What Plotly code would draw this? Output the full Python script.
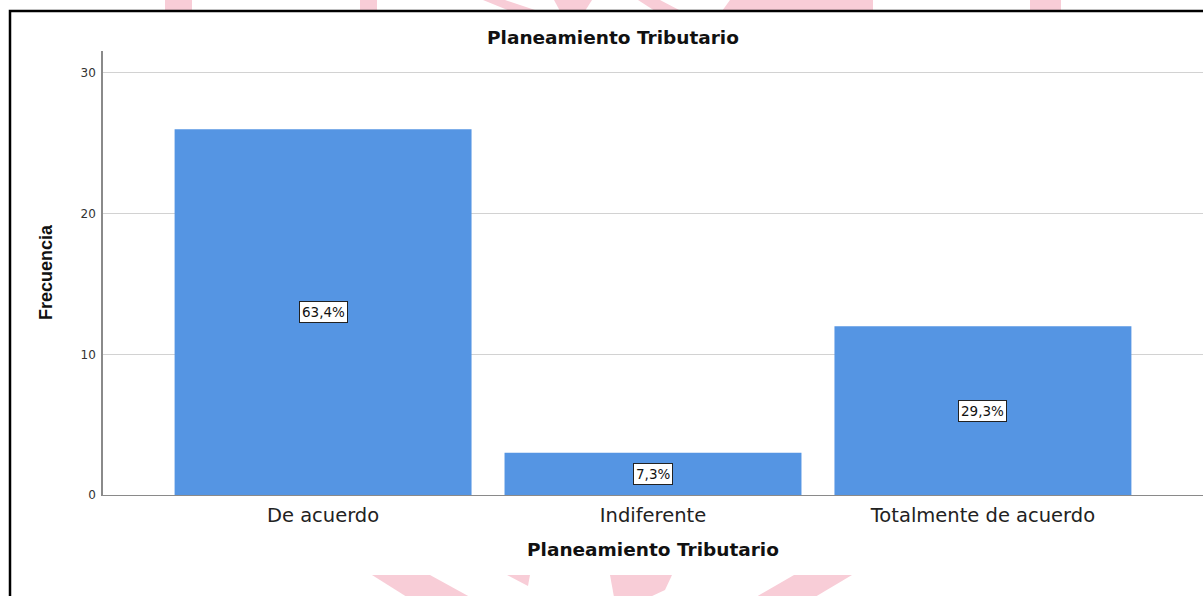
import plotly.graph_objects as go

# ---- data ----
categories = ["De acuerdo", "Indiferente", "Totalmente de acuerdo"]
frecuencia = [26, 3, 12]
porcentaje = ["63,4%", "7,3%", "29,3%"]
y_ticks = [0, 10, 20, 30]

W, H = 1203, 596
L, R, T, B = 103, 1203, 51, 495  # plot area in pixels

def px(x):
    return (x - L) / (R - L)

def py(y):
    return (B - y) / (B - T)

BAR = "rgb(85,149,227)"
PINK = "rgb(248,205,215)"
WIDE = "DejaVu Sans, Verdana, sans-serif"

fig = go.Figure()
fig.add_trace(go.Bar(
    x=categories, y=frecuencia, width=0.9,
    marker=dict(color=BAR, line=dict(width=0)),
    hoverinfo="x+y", showlegend=False,
))

annotations = []
for c, v, p in zip(categories, frecuencia, porcentaje):
    annotations.append(dict(
        x=c, y=v / 2, xref="x", yref="y", text=p, showarrow=False,
        font=dict(family=WIDE, size=13.5, color="#111"),
        bgcolor="white", bordercolor="#222", borderwidth=1, borderpad=2,
    ))

# y-axis title
annotations.append(dict(
    x=px(46), y=py(272), xref="paper", yref="paper", text="<b>Frecuencia</b>",
    textangle=-90, showarrow=False, xanchor="center", yanchor="middle",
    font=dict(family="Liberation Sans Narrow, Liberation Sans, Arial", size=18, color="#111"),
))
# x-axis title
annotations.append(dict(
    x=px(653), y=py(549), xref="paper", yref="paper", text="<b>Planeamiento Tributario</b>",
    showarrow=False, xanchor="center", yanchor="middle",
    font=dict(family=WIDE, size=18.5, color="#111"),
))
# chart title
annotations.append(dict(
    x=px(613), y=py(38), xref="paper", yref="paper", text="<b>Planeamiento Tributario</b>",
    showarrow=False, xanchor="center", yanchor="middle",
    font=dict(family=WIDE, size=18.5, color="#111"),
))

def poly(pts):
    d = "M " + " L ".join(f"{px(x):.5f},{py(y):.5f}" for x, y in pts) + " Z"
    return dict(type="path", path=d, xref="paper", yref="paper",
                fillcolor=PINK, line=dict(width=0), layer="below")

shapes = [
    # watermark fragments (top strip)
    poly([(165, 0), (192, 0), (192, 11), (165, 11)]),
    poly([(360, 0), (377, 0), (377, 11), (360, 11)]),
    poly([(483, 0), (505, 0), (538, 11), (510, 11)]),
    poly([(554, 0), (592, 0), (585, 11), (560, 11)]),
    poly([(638, 0), (660, 0), (681, 11), (655, 11)]),
    poly([(730, 0), (873, 0), (873, 11), (722, 11)]),
    poly([(1030, 0), (1061, 0), (1061, 11), (1030, 11)]),
    # watermark fragments (bottom strip)
    poly([(372, 575), (430, 575), (470, 597), (407, 597)]),
    poly([(507, 575), (530, 575), (528, 586)]),
    poly([(610, 575), (672, 575), (665, 590), (650, 597), (614, 597)]),
    poly([(794, 575), (852, 575), (815, 597), (756, 597)]),
    # black frame
    dict(type="rect", xref="paper", yref="paper",
         x0=px(10), x1=px(1215), y0=py(11), y1=py(610),
         line=dict(color="black", width=2.5), fillcolor="rgba(0,0,0,0)", layer="above"),
]

fig.update_layout(
    width=W, height=H,
    margin=dict(l=L, r=W - R, t=T, b=H - B),
    paper_bgcolor="white", plot_bgcolor="white",
    bargap=0.1,
    annotations=annotations, shapes=shapes,
    font=dict(family=WIDE, color="#222"),
    xaxis=dict(
        range=[-0.667, 2.667], showgrid=False, zeroline=False,
        showline=True, linecolor="#8a8a8a", linewidth=1,
        ticks="", tickfont=dict(family=WIDE, size=19.5, color="#222"),
        ticklabelstandoff=3,
        fixedrange=True,
    ),
    yaxis=dict(
        range=[0, 31.56], tickvals=y_ticks, showgrid=True,
        gridcolor="#d2d2d2", gridwidth=1, zeroline=False,
        showline=True, linecolor="#8a8a8a", linewidth=1.5,
        ticks="", ticklen=0, tickfont=dict(family=WIDE, size=12, color="#333"),
        ticklabelstandoff=3,
        fixedrange=True,
    ),
)

fig.write_html(
    "out.html",
    config={"displayModeBar": False},
    post_script="document.body.style.margin='0';document.body.style.overflow='hidden';",
)
